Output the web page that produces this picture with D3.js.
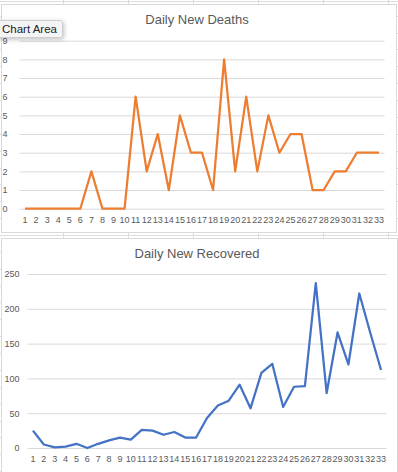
<!DOCTYPE html>
<html>
<head>
<meta charset="utf-8">
<script src="https://cdn.jsdelivr.net/npm/d3@7"></script>
<style>
  body { margin: 0; background: #fff; }
  svg { display: block; font-family: "Liberation Sans", Arial, sans-serif; }
  .tick text { fill: #595959; font-size: 9px; }
  .grid line { stroke: #d9d9d9; }
</style>
</head>
<body>
<svg width="398" height="472"></svg>
<script>
var days = d3.range(1, 34);
var deaths = [0,0,0,0,0,0,2,0,0,0,6,2,4,1,5,3,3,1,8,2,6,2,5,3,4,4,1,1,2,2,3,3,3];
var recovered = [25,5,1,2,6,0,6,11,15,12,26,25,19,23,15,15,43,61,68,91,57,108,121,59,88,89,237,79,166,120,222,166,112];
var deathTicks = d3.range(0, 10);
var recTicks = [0, 50, 100, 150, 200, 250];

var svg = d3.select("svg");

// spreadsheet cells behind the charts
var sheet = svg.append("g").attr("stroke", "#dcdcdc").attr("stroke-width", 1);
[63, 128, 193, 258, 323, 388].forEach(function(x) {
  sheet.append("line").attr("x1", x + 0.5).attr("x2", x + 0.5).attr("y1", 0).attr("y2", 472);
});
d3.range(0, 28).forEach(function(i) {
  var y = Math.round(15.7 + 16.87 * i) + 0.5;
  sheet.append("line").attr("x1", 0).attr("x2", 398).attr("y1", y).attr("y2", y);
});
sheet.append("line").attr("x1", 0).attr("x2", 398).attr("y1", 1.5).attr("y2", 1.5);

function chart(opt) {
  var g = svg.append("g");
  g.append("rect")
    .attr("x", opt.box[0] + 0.5).attr("y", opt.box[1] + 0.5)
    .attr("width", opt.box[2]).attr("height", opt.box[3])
    .attr("fill", "#fff").attr("stroke", "#d9d9d9");

  g.append("text")
    .attr("x", 197).attr("y", opt.titleY)
    .attr("text-anchor", "middle")
    .attr("fill", "#595959")
    .style("font-size", "13px")
    .text(opt.title);

  var x = d3.scaleBand().domain(days).range([opt.left, opt.right]);
  var y = d3.scaleLinear().domain([0, opt.max]).range([opt.bottom, opt.top]);

  var gy = g.append("g")
    .attr("class", "grid")
    .attr("transform", "translate(" + opt.left + ",0)")
    .call(d3.axisLeft(y).tickValues(opt.ticks).tickSize(-(opt.right - opt.left)).tickPadding(opt.ypad));
  gy.select(".domain").remove();

  var gx = g.append("g")
    .attr("transform", "translate(0," + opt.bottom + ")")
    .call(d3.axisBottom(x).tickSize(0).tickPadding(8));
  gx.select(".domain").remove();

  var line = d3.line()
    .x(function(d, i) { return x(days[i]) + x.bandwidth() / 2; })
    .y(function(d) { return y(d); });

  g.append("path")
    .datum(opt.values)
    .attr("fill", "none")
    .attr("stroke", opt.color)
    .attr("stroke-width", 2.25)
    .attr("stroke-linejoin", "round")
    .attr("d", line);
}

chart({
  box: [1, 4, 395, 228], title: "Daily New Deaths", titleY: 24,
  left: 19.5, right: 384.5, top: 40.7, bottom: 208.7,
  max: 9, ticks: deathTicks, ypad: 12, values: deaths, color: "#ed7d31"
});

chart({
  box: [1, 238, 396, 240], title: "Daily New Recovered", titleY: 258,
  left: 27.5, right: 386.5, top: 274, bottom: 448,
  max: 250, ticks: recTicks, ypad: 8, values: recovered, color: "#4472c4"
});

// "Chart Area" hover label
var tip = svg.append("g");
var defs = svg.append("defs");
var f = defs.append("filter").attr("id", "sh").attr("x", -0.2).attr("y", -0.3).attr("width", 1.5).attr("height", 1.8);
f.append("feDropShadow").attr("dx", 1).attr("dy", 1.5).attr("stdDeviation", 2).attr("flood-color", "#000").attr("flood-opacity", 0.25);
tip.append("rect")
  .attr("x", -2.5).attr("y", 20.5).attr("width", 65).attr("height", 17)
  .attr("rx", 2)
  .attr("fill", "#f4f4f4").attr("stroke", "#cfcfcf")
  .attr("filter", "url(#sh)");
tip.append("text")
  .attr("x", 2).attr("y", 33)
  .attr("fill", "#222")
  .style("font-size", "11.5px")
  .text("Chart Area");
</script>
</body>
</html>
